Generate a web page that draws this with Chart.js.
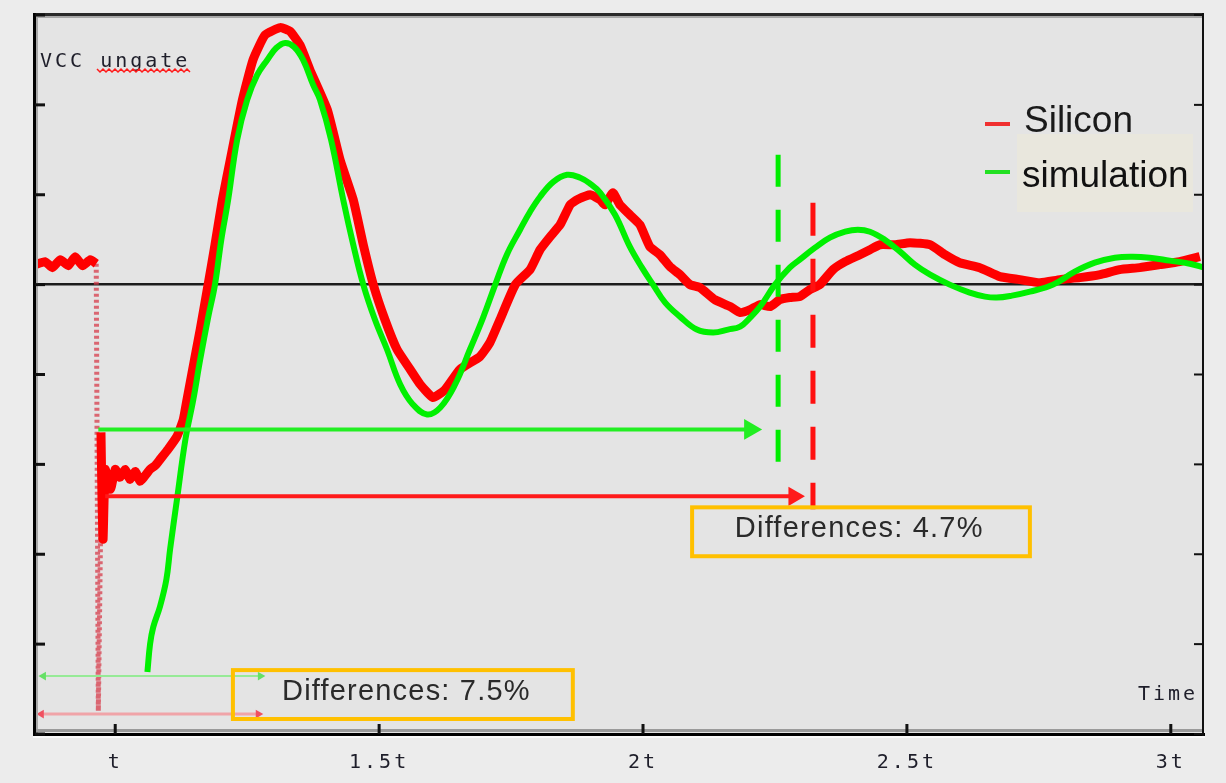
<!DOCTYPE html>
<html>
<head>
<meta charset="utf-8">
<script src="https://cdn.jsdelivr.net/npm/chart.js@4.4.0/dist/chart.umd.min.js"></script>
<style>
  html, body { margin: 0; padding: 0; background: #ececec; }
  #wrap { width: 1226px; height: 783px; }
</style>
</head>
<body>
<div id="wrap"><canvas id="graficoVcc" width="1226" height="783"></canvas></div>
<script>
// time axis (in t) and VCC values
var siliconT = [0.848,0.867,0.881,0.896,0.911,0.924,0.938,0.953,0.964,0.970,
  0.973,0.975,0.977,0.981,0.991,1.000,1.009,1.019,1.028,1.038,1.047,1.057,1.066,1.076,1.085,
  1.100,1.117,1.129,1.136,1.152,1.161,1.176,1.189,1.203,1.218,1.241,1.261,1.284,1.313,1.331,
  1.350,1.369,1.402,1.426,1.451,1.470,1.489,1.511,1.534,1.559,1.578,1.602,1.625,1.653,1.691,
  1.710,1.729,1.758,1.786,1.805,1.824,1.843,1.862,1.875,1.900,1.919,1.928,1.943,1.956,1.975,
  1.994,2.013,2.032,2.051,2.070,2.089,2.108,2.136,2.165,2.184,2.203,2.222,2.241,2.259,2.278,
  2.297,2.316,2.335,2.360,2.383,2.411,2.430,2.449,2.477,2.506,2.544,2.572,2.600,2.638,2.676,
  2.714,2.752,2.790,2.828,2.866,2.903,2.941,2.979,3.017,3.055];
var siliconV = [0.222,0.256,0.189,0.278,0.211,0.311,0.211,0.278,0.233,null,
  -1.644,-2.389,-2.833,-2.056,-2.278,-2.056,-2.144,-2.056,-2.167,-2.078,-2.189,-2.122,-2.056,-2.011,-1.944,
  -1.833,-1.689,-1.5,-1.278,-0.778,-0.5,0,0.444,0.944,1.389,2.056,2.5,2.778,2.86,2.82,
  2.667,2.389,1.944,1.389,0.944,0.444,0,-0.389,-0.722,-0.944,-1.111,-1.256,-1.167,-0.944,-0.8,
  -0.644,-0.389,0,0.167,0.389,0.533,0.667,0.889,0.944,1.0,0.944,0.889,1.022,0.889,0.778,
  0.667,0.422,0.333,0.2,0.111,0,-0.033,-0.167,-0.244,-0.311,-0.278,-0.222,-0.244,-0.167,-0.144,
  -0.133,-0.056,0,0.167,0.256,0.333,0.389,0.444,0.444,0.467,0.444,0.333,0.244,0.189,0.089,
  0.056,0.022,0.056,0.078,0.111,0.167,0.189,0.222,0.256,0.311];

// fast edge of the silicon trace (sparse samples, drawn dotted)
var edgeT = [0.964,0.968,0.972,0.975];
var edgeV = [0.233,-4.744,-2.889,-1.722];

var simulationT = [1.061,1.066,1.072,1.085,1.097,1.104,1.117,1.133,1.148,1.161,
  1.176,1.189,1.201,1.214,1.231,1.250,1.269,1.288,1.305,1.322,1.339,1.356,1.375,1.388,1.409,
  1.432,1.451,1.470,1.492,1.515,1.540,1.564,1.591,1.616,1.644,1.672,1.697,1.720,1.742,1.767,
  1.786,1.805,1.830,1.856,1.881,1.900,1.919,1.947,1.975,1.998,2.019,2.042,2.070,2.102,2.133,
  2.161,2.184,2.203,2.222,2.250,2.278,2.297,2.326,2.354,2.383,2.407,2.430,2.458,2.487,2.515,
  2.544,2.581,2.619,2.648,2.670,2.699,2.733,2.777,2.818,2.856,2.894,2.928,2.960,2.998,3.036,3.064];
var simulationV = [-4.311,-4.0,-3.811,-3.578,-3.278,-2.944,-2.389,-1.722,-1.278,-0.833,
  -0.367,0,0.5,0.944,1.611,2.056,2.333,2.5,2.633,2.689,2.644,2.5,2.222,2.056,1.611,
  0.944,0.444,0,-0.389,-0.722,-1.111,-1.333,-1.444,-1.367,-1.111,-0.722,-0.367,0,0.333,0.611,
  0.811,0.978,1.144,1.222,1.189,1.122,1.022,0.778,0.422,0.189,0,-0.2,-0.356,-0.5,-0.533,
  -0.5,-0.467,-0.367,-0.244,0,0.189,0.278,0.411,0.522,0.589,0.611,0.589,0.5,0.367,0.222,
  0.111,0,-0.089,-0.133,-0.144,-0.122,-0.078,0,0.144,0.244,0.3,0.311,0.3,0.267,0.233,0.189];

// settling markers and arrows
var simSettleT = [2.256, 2.256];
var simSettleV = [1.444, -2.056];
var siliconSettleT = [2.322, 2.322];
var siliconSettleV = [0.911, -2.5];
var simArrowT = [0.968, 2.203];
var simArrowV = [-1.611, -1.611];
var siliconArrowT = [0.981, 2.286];
var siliconArrowV = [-2.356, -2.356];
var simDelayT = [0.864, 1.275];
var simDelayV = [-4.356, -4.356];
var siliconDelayT = [0.860, 1.271];
var siliconDelayV = [-4.778, -4.778];

var xTickValues = [1, 1.5, 2, 2.5, 3];
var xTickLabels = ['t', '1.5t', '2t', '2.5t', '3t'];
var yTickValues = [-5, -4, -3, -2, -1, 0, 1, 2, 3];

function pts(tt, vv) {
  return tt.map(function(t, i) { return {x: t, y: vv[i]}; });
}

var plotDecor = {
  id: 'plotDecor',
  beforeDraw: function(chart) {
    var ctx = chart.ctx, a = chart.chartArea;
    ctx.save();
    ctx.fillStyle = '#ececec';
    ctx.fillRect(0, 0, chart.width, chart.height);
    ctx.fillStyle = '#e4e4e4';
    ctx.fillRect(a.left, a.top, a.right - a.left, a.bottom - a.top);
    ctx.restore();
    ctx.letterSpacing = '3px';
  },
  afterDraw: function(chart) {
    var ctx = chart.ctx, a = chart.chartArea;
    var xs = chart.scales.x, ys = chart.scales.y;
    var w = a.right - a.left, h = a.bottom - a.top;
    ctx.save();
    // frame
    ctx.fillStyle = '#a8a8a8';
    ctx.fillRect(a.left, a.top + 1, w, 2);
    ctx.fillRect(a.left + 1, a.top, 2, h);
    ctx.fillStyle = '#9a9a9a';
    ctx.fillRect(a.left, a.bottom - 5, w, 3);
    ctx.fillStyle = '#2a2a2a';
    ctx.fillRect(a.left - 2, a.top - 2, w + 3, 3);
    ctx.fillStyle = '#000';
    ctx.fillRect(a.left - 2, a.top - 2, 3, h + 4);
    ctx.fillRect(a.left - 2, a.bottom - 1, w + 4, 3);
    ctx.fillStyle = '#111';
    ctx.fillRect(a.right - 1, a.top - 2, 2, h + 4);
    ctx.fillStyle = '#fafafa';
    ctx.fillRect(a.left - 2, a.bottom + 2, w + 4, 2);

    // tick marks inside the frame
    ctx.fillStyle = '#111';
    yTickValues.forEach(function(v) {
      var py = ys.getPixelForValue(v);
      ctx.fillRect(a.left, py - 1.5, 10, 3);
      ctx.fillRect(a.right - 9, py - 1, 8, 2);
    });
    xTickValues.forEach(function(v) {
      var px = xs.getPixelForValue(v);
      ctx.fillRect(px - 1.5, a.bottom - 10, 3, 10);
    });

    // scope labels
    ctx.letterSpacing = '3px';
    ctx.font = '20px "DejaVu Sans Mono"';
    ctx.fillStyle = '#1e1e2a';
    ctx.textBaseline = 'middle';
    ctx.textAlign = 'left';
    ctx.fillText('VCC ungate', 40, 62);
    ctx.fillText('Time', 1138, 695);
    // spell-check squiggle
    ctx.strokeStyle = '#ff1a1a';
    ctx.lineWidth = 1.5;
    ctx.beginPath();
    for (var sx = 97, k = 0; sx <= 190; sx += 3, k++) {
      var sy = (k % 2 === 0) ? 69 : 72;
      if (k === 0) ctx.moveTo(sx, sy); else ctx.lineTo(sx, sy);
    }
    ctx.stroke();

    // legend
    ctx.letterSpacing = '0px';
    ctx.font = '37px "Liberation Sans"';
    ctx.textBaseline = 'alphabetic';
    ctx.fillStyle = '#f03030';
    ctx.fillRect(985, 122, 25, 4);
    ctx.fillStyle = '#1a1a1a';
    ctx.fillText('Silicon', 1024, 132);
    ctx.fillStyle = '#e9e7dd';
    ctx.fillRect(1017, 134, 176, 78);
    ctx.fillStyle = '#22e022';
    ctx.fillRect(985, 170, 25, 4);
    ctx.fillStyle = '#111';
    ctx.fillText('simulation', 1022, 187);

    // difference boxes
    var boxes = [
      {t0: 2.093, t1: 2.733, v0: -2.478, v1: -3.022, tt: 2.174, tv: -2.722, text: 'Differences: 4.7%'},
      {t0: 1.223, t1: 1.867, v0: -4.289, v1: -4.833, tt: 1.316, tv: -4.533, text: 'Differences: 7.5%'}
    ];
    ctx.font = '29px "Liberation Sans"';
    ctx.letterSpacing = '1.2px';
    ctx.textBaseline = 'middle';
    boxes.forEach(function(b) {
      var x0 = xs.getPixelForValue(b.t0), x1 = xs.getPixelForValue(b.t1);
      var y0 = ys.getPixelForValue(b.v0), y1 = ys.getPixelForValue(b.v1);
      ctx.strokeStyle = '#ffc000';
      ctx.lineWidth = 4;
      ctx.strokeRect(x0, y0, x1 - x0, y1 - y0);
      ctx.fillStyle = '#2a2a2a';
      ctx.fillText(b.text, xs.getPixelForValue(b.tt), ys.getPixelForValue(b.tv));
    });
    ctx.restore();
  }
};

var ctx = document.getElementById('graficoVcc').getContext('2d');
var vccChart = new Chart(ctx, {
  type: 'line',
  data: {
    datasets: [
      {
        label: 'simulation',
        data: pts(simulationT, simulationV),
        borderColor: '#00f000',
        borderWidth: 6,
        tension: 0.4,
        pointRadius: 0,
        order: 2
      },
      {
        label: 'Silicon',
        data: pts(siliconT, siliconV),
        borderColor: '#ff0000',
        borderWidth: 9,
        tension: 0.15,
        spanGaps: false,
        pointRadius: 0,
        order: 3
      },
      {
        label: 'edge',
        data: pts(edgeT, edgeV),
        borderColor: 'rgba(215,60,75,0.75)',
        borderWidth: 5,
        borderDash: [3, 3],
        pointRadius: 0,
        order: 4
      },
      {
        label: 'sim settle',
        data: pts(simSettleT, simSettleV),
        borderColor: '#00ee00',
        borderWidth: 5,
        borderDash: [32, 23],
        pointRadius: 0,
        order: 1
      },
      {
        label: 'silicon settle',
        data: pts(siliconSettleT, siliconSettleV),
        borderColor: '#ff1010',
        borderWidth: 5,
        borderDash: [33, 23],
        pointRadius: 0,
        order: 1
      },
      {
        label: 'sim arrow',
        data: pts(simArrowT, simArrowV),
        borderColor: '#22ee22',
        borderWidth: 4,
        pointStyle: 'triangle',
        pointRadius: [0, 12],
        pointRotation: [0, 90],
        pointBackgroundColor: '#22ee22',
        pointBorderWidth: 0,
        order: 0
      },
      {
        label: 'silicon arrow',
        data: pts(siliconArrowT, siliconArrowV),
        borderColor: '#ff1a1a',
        borderWidth: 4,
        pointStyle: 'triangle',
        pointRadius: [0, 11],
        pointRotation: [0, 90],
        pointBackgroundColor: '#ff1a1a',
        pointBorderWidth: 0,
        order: 0
      },
      {
        label: 'sim delay',
        data: pts(simDelayT, simDelayV),
        borderColor: '#96ea96',
        borderWidth: 2,
        pointStyle: 'triangle',
        pointRadius: 5,
        pointRotation: [270, 90],
        pointBackgroundColor: '#66e066',
        pointBorderWidth: 0,
        order: 0
      },
      {
        label: 'silicon delay',
        data: pts(siliconDelayT, siliconDelayV),
        borderColor: '#f0a4a8',
        borderWidth: 3,
        pointStyle: 'triangle',
        pointRadius: 5,
        pointRotation: [270, 90],
        pointBackgroundColor: '#f05060',
        pointBorderWidth: 0,
        order: 0
      }
    ]
  },
  options: {
    responsive: false,
    animation: false,
    events: [],
    layout: { padding: { left: 35, top: 15, right: 23, bottom: 8 } },
    plugins: {
      legend: { display: false },
      tooltip: { enabled: false }
    },
    scales: {
      x: {
        type: 'linear',
        min: 0.848,
        max: 3.061,
        afterBuildTicks: function(scale) {
          scale.ticks = xTickValues.map(function(v) { return {value: v}; });
        },
        afterFit: function(scale) {
          scale.height = 41;
        },
        ticks: {
          autoSkip: false,
          maxRotation: 0,
          padding: 17,
          color: '#1e1e2a',
          font: { family: 'DejaVu Sans Mono', size: 20 },
          callback: function(value) {
            var i = xTickValues.indexOf(value);
            return i >= 0 ? xTickLabels[i] : '';
          }
        },
        grid: { display: false, drawTicks: false },
        border: { display: false }
      },
      y: {
        type: 'linear',
        min: -5,
        max: 3,
        z: 1,
        afterBuildTicks: function(scale) {
          scale.ticks = yTickValues.map(function(v) { return {value: v}; });
        },
        ticks: { display: false },
        grid: {
          drawTicks: false,
          lineWidth: 2.5,
          color: function(c) {
            return (c.tick && c.tick.value === 0) ? '#1c1c1c' : 'rgba(0,0,0,0)';
          }
        },
        border: { display: false }
      }
    }
  },
  plugins: [plotDecor]
});
</script>
</body>
</html>
